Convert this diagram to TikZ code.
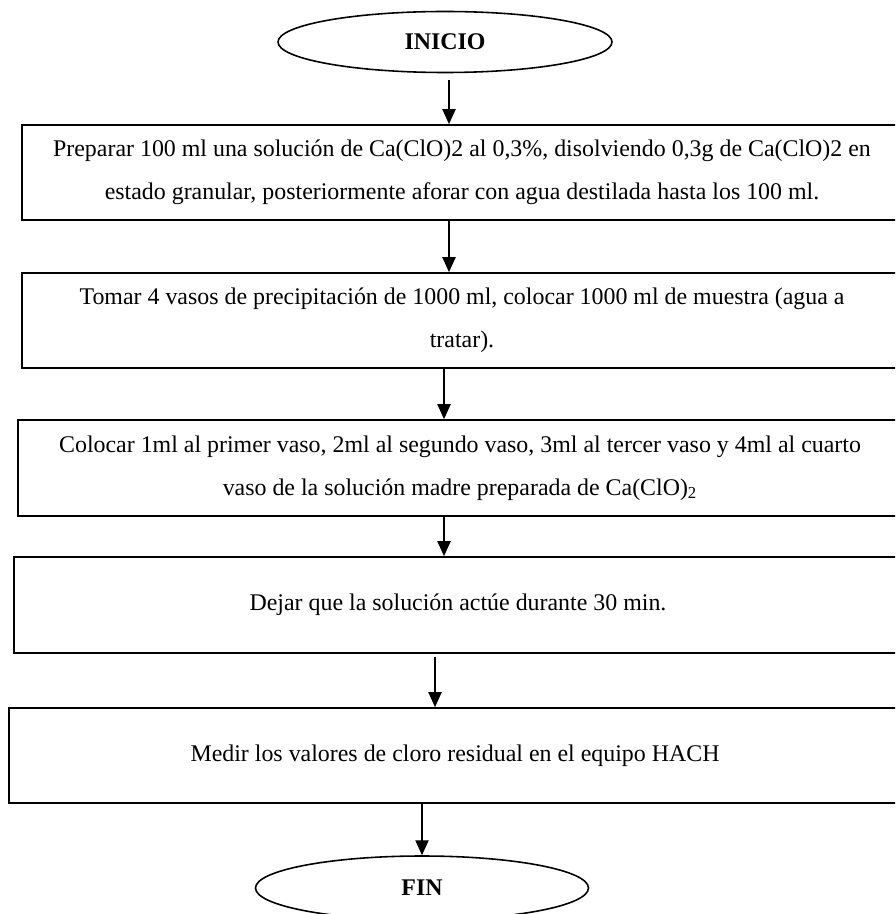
\documentclass[tikz,border=0pt]{standalone}
\usepackage{fontspec}
\setmainfont{Liberation Serif}
\usepackage{tikz}
\usetikzlibrary{shapes.geometric,arrows.meta}

\begin{document}
\begin{tikzpicture}[
  every node/.style={font=\fontsize{13.6}{24.4}\selectfont},
  caja/.style={draw=black,line width=1pt,rectangle,align=center,
    minimum height=1.9cm,inner sep=0pt},
  terminal/.style={draw=black,line width=0.9pt,ellipse,
    minimum width=6.68cm,minimum height=1.22cm,font=\fontsize{13.6}{15}\selectfont\bfseries},
  flecha/.style={-{Triangle[length=8.5pt,width=7.5pt]},line width=0.8pt}]
  \useasboundingbox (0,0) rectangle (17.9,-18.28);
  \clip (0,0) rectangle (17.9,-18.28);

  % inicio
  \node[terminal] (ini) at (8.90,-0.84) {INICIO};

  % pasos
  \node[caja,minimum width=17.6cm] (p1) at (9.24,-3.45)
    {Preparar 100 ml una solución de Ca(ClO)2 al 0,3\%, disolviendo 0,3g de Ca(ClO)2 en\\
     estado granular, posteriormente aforar con agua destilada hasta los 100 ml.};
  \node[caja,minimum width=17.6cm] (p2) at (9.24,-6.41)
    {Tomar 4 vasos de precipitación de 1000 ml, colocar 1000 ml de muestra (agua a\\
     tratar).};
  \node[caja,minimum width=17.68cm,minimum height=1.92cm] (p3) at (9.20,-9.36)
    {Colocar 1ml al primer vaso, 2ml al segundo vaso, 3ml al tercer vaso y 4ml al cuarto\\
     vaso de la solución madre preparada de Ca(ClO)\textsubscript{2}};
  \node[caja,minimum width=17.76cm,minimum height=1.92cm] (p4) at (9.16,-12.10)
    {Dejar que la solución actúe durante 30 min.};
  \node[caja,minimum width=17.84cm] (p5) at (9.10,-15.11)
    {Medir los valores de cloro residual en el equipo HACH};

  % fin
  \node[terminal,minimum width=6.66cm,minimum height=1.28cm] (fin) at (8.44,-17.76) {FIN};

  % flechas
  \draw[flecha,shorten <=4pt] (ini.south -| 8.98,0) -- (p1.north -| 8.98,0);
  \draw[flecha] (p1.south -| 8.98,0) -- (p2.north -| 8.98,0);
  \draw[flecha] (p2.south -| 8.88,0) -- (p3.north -| 8.88,0);
  \draw[flecha] (p3.south -| 8.88,0) -- (p4.north -| 8.88,0);
  \draw[flecha,shorten <=2pt] (p4.south -| 8.70,0) -- (p5.north -| 8.70,0);
  \draw[flecha] (p5.south -| 8.44,0) -- (fin.north);
\end{tikzpicture}
\end{document}
